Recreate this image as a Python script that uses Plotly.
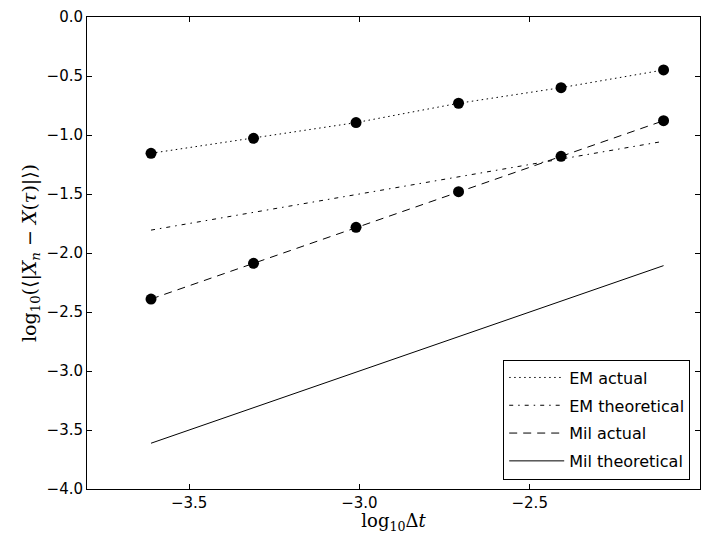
import plotly.graph_objects as go

# Step sizes dt = 2^-12 ... 2^-7 on a log10 scale
log_dt = [-3.612, -3.311, -3.010, -2.709, -2.408, -2.107]

# Measured strong errors (log10) for Euler-Maruyama and Milstein
em_actual = [-1.155, -1.028, -0.895, -0.731, -0.599, -0.449]
mil_actual = [-2.390, -2.087, -1.782, -1.480, -1.181, -0.879]

# Reference orders: 1/2 for EM, 1 for Milstein
em_order = 0.5
mil_order = 1.0
em_theory = [em_order * v for v in log_dt]
mil_theory = [mil_order * v for v in log_dt]

fig = go.Figure()

line_specs = [
    ("EM actual", em_actual, "1.5px,3.5px"),
    ("EM theoretical", em_theory, "4px,5px,1.5px,5px"),
    ("Mil actual", mil_actual, "8px,6px"),
    ("Mil theoretical", mil_theory, "solid"),
]
for name, ys, dash in line_specs:
    fig.add_trace(go.Scatter(
        x=log_dt, y=ys, mode="lines", name=name, legendgroup=name,
        line=dict(color="black", width=1, dash=dash),
    ))

for ys in (em_actual, mil_actual):
    fig.add_trace(go.Scatter(
        x=log_dt, y=ys, mode="markers", showlegend=False,
        marker=dict(color="black", size=11),
    ))

axis_common = dict(
    showgrid=False, zeroline=False, showline=True, linecolor="black",
    linewidth=1, mirror="ticks", ticks="inside", ticklen=5,
    tickcolor="black", automargin=False,
    tickfont=dict(family="DejaVu Sans", size=15, color="black"),
)

fig.update_xaxes(
    range=[-3.8, -2.0], tickvals=[-3.5, -3.0, -2.5, -2.0],
    ticktext=["\u22123.5", "\u22123.0", "\u22122.5", "\u22122.0"],
    title=dict(text="log<sub>10</sub>\u0394<i>t</i>",
               font=dict(family="DejaVu Serif", size=18, color="black"),
               standoff=4),
    **axis_common,
)
fig.update_yaxes(
    range=[-4.0, 0.0], tickvals=[-4.0, -3.5, -3.0, -2.5, -2.0, -1.5, -1.0, -0.5, 0.0],
    ticktext=["\u22124.0", "\u22123.5", "\u22123.0", "\u22122.5", "\u22122.0",
              "\u22121.5", "\u22121.0", "\u22120.5", "0.0"],
    title=dict(text="log<sub>10</sub>(\u27e8|<i>X</i><sub><i>n</i></sub> \u2212 <i>X</i>(<i>\u03c4</i>)|\u27e9)",
               font=dict(family="DejaVu Serif", size=19, color="black"),
               standoff=4),
    **axis_common,
)

fig.update_layout(
    width=718, height=534,
    margin=dict(l=87, r=18, t=17, b=45),
    plot_bgcolor="white", paper_bgcolor="white",
    showlegend=True,
    legend=dict(
        x=0.984, y=0.02, xanchor="right", yanchor="bottom",
        bordercolor="black", borderwidth=1, bgcolor="white",
        font=dict(family="DejaVu Sans", size=16, color="black"),
        traceorder="grouped", tracegroupgap=4, itemwidth=55,
    ),
)

fig.write_html("out.html")
